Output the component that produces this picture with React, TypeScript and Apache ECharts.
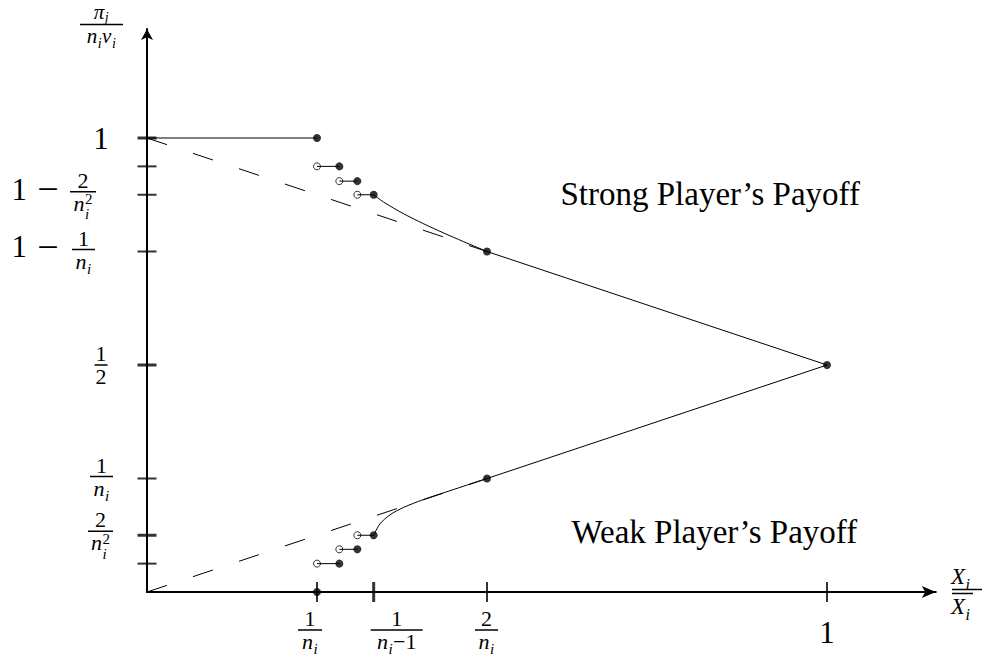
import React, { useEffect, useRef } from "react";
import * as echarts from "echarts";

// ---------------- data ----------------
const xTickValues = [0.25, 1 / 3, 0.5, 1];
const xTickBold = [false, true, false, false];
const yTickValues = [1, 0.9375, 0.875, 0.75, 0.5, 0.25, 0.125, 0.0625];
const yTickBold = [true, false, false, false, true, false, true, false];

const stepX = [0.25, 0.2828, 0.3093, 1 / 3];
const strongStepY = [0.9375, 0.905, 0.875];
const weakStepY = [0.0625, 0.094, 0.125];

const strongFlat = [[0, 1], [0.25, 1]];
const weakFlat = [[0, 0], [0.25, 0]];
const strongDashed = [[0, 1], [0.5, 0.75]];
const weakDashed = [[0, 0], [0.5, 0.25]];
const strongCurve = [[1 / 3, 0.875], [0.3475, 0.8593], [0.3769, 0.8336], [0.4063, 0.8114], [0.4357, 0.7912], [0.4651, 0.772], [0.5, 0.75]];
const weakCurve = [[1 / 3, 0.125], [0.3426, 0.15], [0.3574, 0.17], [0.3769, 0.186], [0.4063, 0.2035], [0.4357, 0.2182], [0.4651, 0.2328], [0.5, 0.25]];
const strongLine = [[0.5, 0.75], [1, 0.5]];
const weakLine = [[0.5, 0.25], [1, 0.5]];
const endpointDots = [[0.25, 1], [0.5, 0.75], [1, 0.5], [0.5, 0.25], [0.25, 0]];

type Tok = { t: string; it?: boolean; sub?: string; sup?: string; subDy?: number };
const N_I: Tok = { t: "n", it: true, sub: "i" };
const N_I2: Tok = { t: "n", it: true, sub: "i", sup: "2" };

type Lbl =
  | { kind: "big"; t: string }
  | { kind: "frac"; prefix?: boolean; num: Tok[]; den: Tok[] };

// label per y tick (null = no label)
const yTickLabels: (Lbl | null)[] = [
  { kind: "big", t: "1" },
  null,
  { kind: "frac", prefix: true, num: [{ t: "2" }], den: [N_I2] },
  { kind: "frac", prefix: true, num: [{ t: "1" }], den: [N_I] },
  { kind: "frac", num: [{ t: "1" }], den: [{ t: "2" }] },
  { kind: "frac", num: [{ t: "1" }], den: [N_I] },
  { kind: "frac", num: [{ t: "2" }], den: [N_I2] },
  null,
];
const xTickLabels: Lbl[] = [
  { kind: "frac", num: [{ t: "1" }], den: [N_I] },
  { kind: "frac", num: [{ t: "1" }], den: [N_I, { t: "\u22121" }] },
  { kind: "frac", num: [{ t: "2" }], den: [N_I] },
  { kind: "big", t: "1" },
];
const yTitleNum: Tok[] = [{ t: "\u03c0", it: true, sub: "j", subDy: 3.5 }];
const yTitleDen: Tok[] = [N_I, { t: "v", it: true, sub: "i" }];
const xTitleTok: Tok[] = [{ t: "X", it: true, sub: "i" }];
const strongText = "Strong Player\u2019s Payoff";
const weakText = "Weak Player\u2019s Payoff";

// ---------------- layout / style ----------------
const X_MAX = 1.16;
const Y_MAX = 1.24;
const X_UNIT = 680;
const Y_UNIT = 454;
const ORIGIN = [147, 592];
const FONT = '"Liberation Serif", "Times New Roman", serif';
const FS = 22;
const BIG = 31;

// per y tick: cx, bar offset from tick, bar width
const yLabelLayout = [
  { cx: 101, dy: 11, w: 0 },
  null,
  { cx: 83, dy: -3, w: 26 },
  { cx: 83.5, dy: -2, w: 23 },
  { cx: 101, dy: 0, w: 13 },
  { cx: 101.5, dy: -2, w: 23 },
  { cx: 100.5, dy: -4, w: 25 },
  null,
];
const xLabelLayout = [
  { dx: -7, dy: 38, w: 24 },
  { dx: 23, dy: 38, w: 52 },
  { dx: -0.5, dy: 38, w: 23 },
  { dx: 0, dy: 51, w: 0 },
];

let mctx: CanvasRenderingContext2D | null = null;
function tw(t: string, fs: number, it: boolean) {
  if (!mctx) mctx = document.createElement("canvas").getContext("2d");
  mctx!.font = `${it ? "italic " : ""}${fs}px ${FONT}`;
  return mctx!.measureText(t).width;
}

function txt(t: string, x: number, base: number, fs: number, it: boolean, align = "left") {
  return {
    type: "text",
    x,
    y: base - 0.34 * fs,
    silent: true,
    z: 10,
    style: {
      text: t,
      fontSize: fs,
      fontFamily: FONT,
      fontStyle: it ? "italic" : "normal",
      lineHeight: Math.ceil(fs * 0.75),
      fill: "#000",
      align,
      verticalAlign: "middle",
      textAlign: align,
      textVerticalAlign: "middle",
    },
  };
}

function layoutRun(toks: Tok[], fs: number) {
  const items: { t: string; dx: number; dy: number; fs: number; it: boolean }[] = [];
  let x = 0;
  const ss = Math.round(fs * 0.68);
  for (const k of toks) {
    items.push({ t: k.t, dx: x, dy: 0, fs, it: !!k.it });
    x += tw(k.t, fs, !!k.it);
    let sw = 0;
    if (k.sup) {
      items.push({ t: k.sup, dx: x + 0.5, dy: -0.3 * fs, fs: ss, it: false });
      sw = Math.max(sw, tw(k.sup, ss, false) + 0.5);
    }
    if (k.sub) {
      const dy = k.subDy ?? (k.sup ? 0.38 * fs : 0.25 * fs);
      items.push({ t: k.sub, dx: x + 0.5, dy, fs: ss, it: true });
      sw = Math.max(sw, tw(k.sub, ss, true) + 1);
    }
    x += sw;
  }
  return { items, width: x };
}

function placeRun(toks: Tok[], cx: number, base: number, fs: number, leftAligned = false) {
  const r = layoutRun(toks, fs);
  const x0 = leftAligned ? cx : cx - r.width / 2;
  return r.items.map((it) => txt(it.t, x0 + it.dx, base + it.dy, it.fs, it.it));
}

function bar(x: number, y: number, w: number) {
  return { type: "rect", silent: true, z: 10, shape: { x, y: y - 0.75, width: w, height: 1.5 }, style: { fill: "#000" } };
}

function frac(cx: number, barY: number, barW: number, num: Tok[], den: Tok[], fs = FS, numUp = 4, denDown = 19) {
  return [bar(cx - barW / 2, barY, barW), ...placeRun(num, cx, barY - numUp, fs), ...placeRun(den, cx, barY + denDown, fs)];
}

function buildLabels(px: (x: number, y: number) => number[]) {
  const els: any[] = [];
  yTickValues.forEach((v, i) => {
    const lbl = yTickLabels[i];
    const lay = yLabelLayout[i];
    if (!lbl || !lay) return;
    const ty = px(0, v)[1];
    if (lbl.kind === "big") {
      els.push(txt(lbl.t, lay.cx, ty + lay.dy, BIG, false, "center"));
    } else {
      const barY = ty + lay.dy;
      if (lbl.prefix) {
        els.push(txt("1", 11.6, barY + 8, BIG, false));
        els.push(txt("\u2212", 48, barY + 10, 38, false, "center"));
      }
      els.push(...frac(lay.cx, barY, lay.w, lbl.num, lbl.den));
    }
  });
  xTickValues.forEach((v, i) => {
    const lbl = xTickLabels[i];
    const lay = xLabelLayout[i];
    const [tx, ay] = px(v, 0);
    if (lbl.kind === "big") {
      els.push(txt(lbl.t, tx + lay.dx, ay + lay.dy, BIG, false, "center"));
    } else {
      els.push(...frac(tx + lay.dx, ay + lay.dy, lay.w, lbl.num, lbl.den));
    }
  });
  // y-axis title
  els.push(...frac(101.5, 24.5, 43, yTitleNum, yTitleDen, 21, 5.5, 19));
  // x-axis title
  els.push(...placeRun(xTitleTok, 951, 584, 23, true));
  els.push(bar(952, 589.5, 30));
  els.push(bar(952, 593.5, 21));
  els.push(...placeRun(xTitleTok, 951, 614, 23, true));
  // region texts
  els.push(txt(strongText, 560.5, 205, 33, false));
  els.push(txt(weakText, 571.5, 543, 33, false));
  return els;
}

function lineSeries(data: number[][], extra: any = {}) {
  return {
    type: "line",
    data,
    symbol: "none",
    showSymbol: false,
    clip: false,
    silent: true,
    z: 3,
    lineStyle: { color: "#000", width: 1 },
    ...extra,
  };
}

function buildOption(): any {
  const series: any[] = [];
  series.push(lineSeries(strongDashed, { lineStyle: { color: "#000", width: 1, type: [21, 27.5] } }));
  series.push(lineSeries(weakDashed, { lineStyle: { color: "#000", width: 1, type: [21, 27.5] } }));
  series.push(lineSeries(strongFlat));
  series.push(lineSeries(weakFlat));
  series.push(lineSeries(strongCurve, { smooth: 0.3 }));
  series.push(lineSeries(weakCurve, { smooth: 0.3 }));
  series.push(lineSeries(strongLine));
  series.push(lineSeries(weakLine));
  const openPts: number[][] = [];
  const filledPts: number[][] = [...endpointDots];
  [strongStepY, weakStepY].forEach((ys) => {
    ys.forEach((y, k) => {
      series.push(lineSeries([[stepX[k], y], [stepX[k + 1], y]], { z: 4 }));
      openPts.push([stepX[k], y]);
      filledPts.push([stepX[k + 1], y]);
    });
  });
  // ticks
  series.push({
    type: "scatter",
    symbol: "rect",
    clip: false,
    silent: true,
    z: 2,
    itemStyle: { color: "#000" },
    data: [
      ...xTickValues.map((v, i) => ({ value: [v, 0], symbolSize: [xTickBold[i] ? 3 : 2, 20] })),
      ...yTickValues.map((v, i) => ({ value: [0, v], symbolSize: [19, yTickBold[i] ? 3 : 2] })),
    ],
  });
  series.push({
    type: "scatter",
    symbol: "circle",
    symbolSize: 7,
    clip: false,
    silent: true,
    z: 3,
    itemStyle: { color: "#fff", borderColor: "#000", borderWidth: 1 },
    data: openPts,
  });
  series.push({
    type: "scatter",
    symbol: "circle",
    symbolSize: 8,
    clip: false,
    silent: true,
    z: 5,
    itemStyle: { color: "#000" },
    data: filledPts,
  });

  const axisCommon = {
    type: "value",
    min: 0,
    axisTick: { show: false },
    axisLabel: { show: false },
    splitLine: { show: false },
  };
  return {
    animation: false,
    backgroundColor: "#fff",
    grid: {
      left: ORIGIN[0],
      top: ORIGIN[1] - Y_UNIT * Y_MAX,
      width: X_UNIT * X_MAX,
      height: Y_UNIT * Y_MAX,
      containLabel: false,
      outerBoundsMode: "none",
    },
    xAxis: {
      ...axisCommon,
      max: X_MAX,
      axisLine: { show: true, symbol: ["none", "arrow"], symbolSize: [9, 14], lineStyle: { color: "#000", width: 2 } },
    },
    yAxis: {
      ...axisCommon,
      max: Y_MAX,
      axisLine: { show: true, symbol: ["none", "arrow"], symbolSize: [9, 11], lineStyle: { color: "#000", width: 2 } },
    },
    series,
  };
}

export default function App() {
  const ref = useRef<HTMLDivElement>(null);
  useEffect(() => {
    const chart = echarts.init(ref.current!, null, { renderer: "svg" });
    chart.setOption(buildOption());
    const px = (x: number, y: number) => chart.convertToPixel({ gridIndex: 0 }, [x, y]) as number[];
    chart.setOption({ graphic: { elements: buildLabels(px) } });
    return () => chart.dispose();
  }, []);
  return (
    <div
      ref={ref}
      style={{ position: "fixed", left: 0, top: 0, width: 990, height: 661, background: "#fff" }}
    />
  );
}
